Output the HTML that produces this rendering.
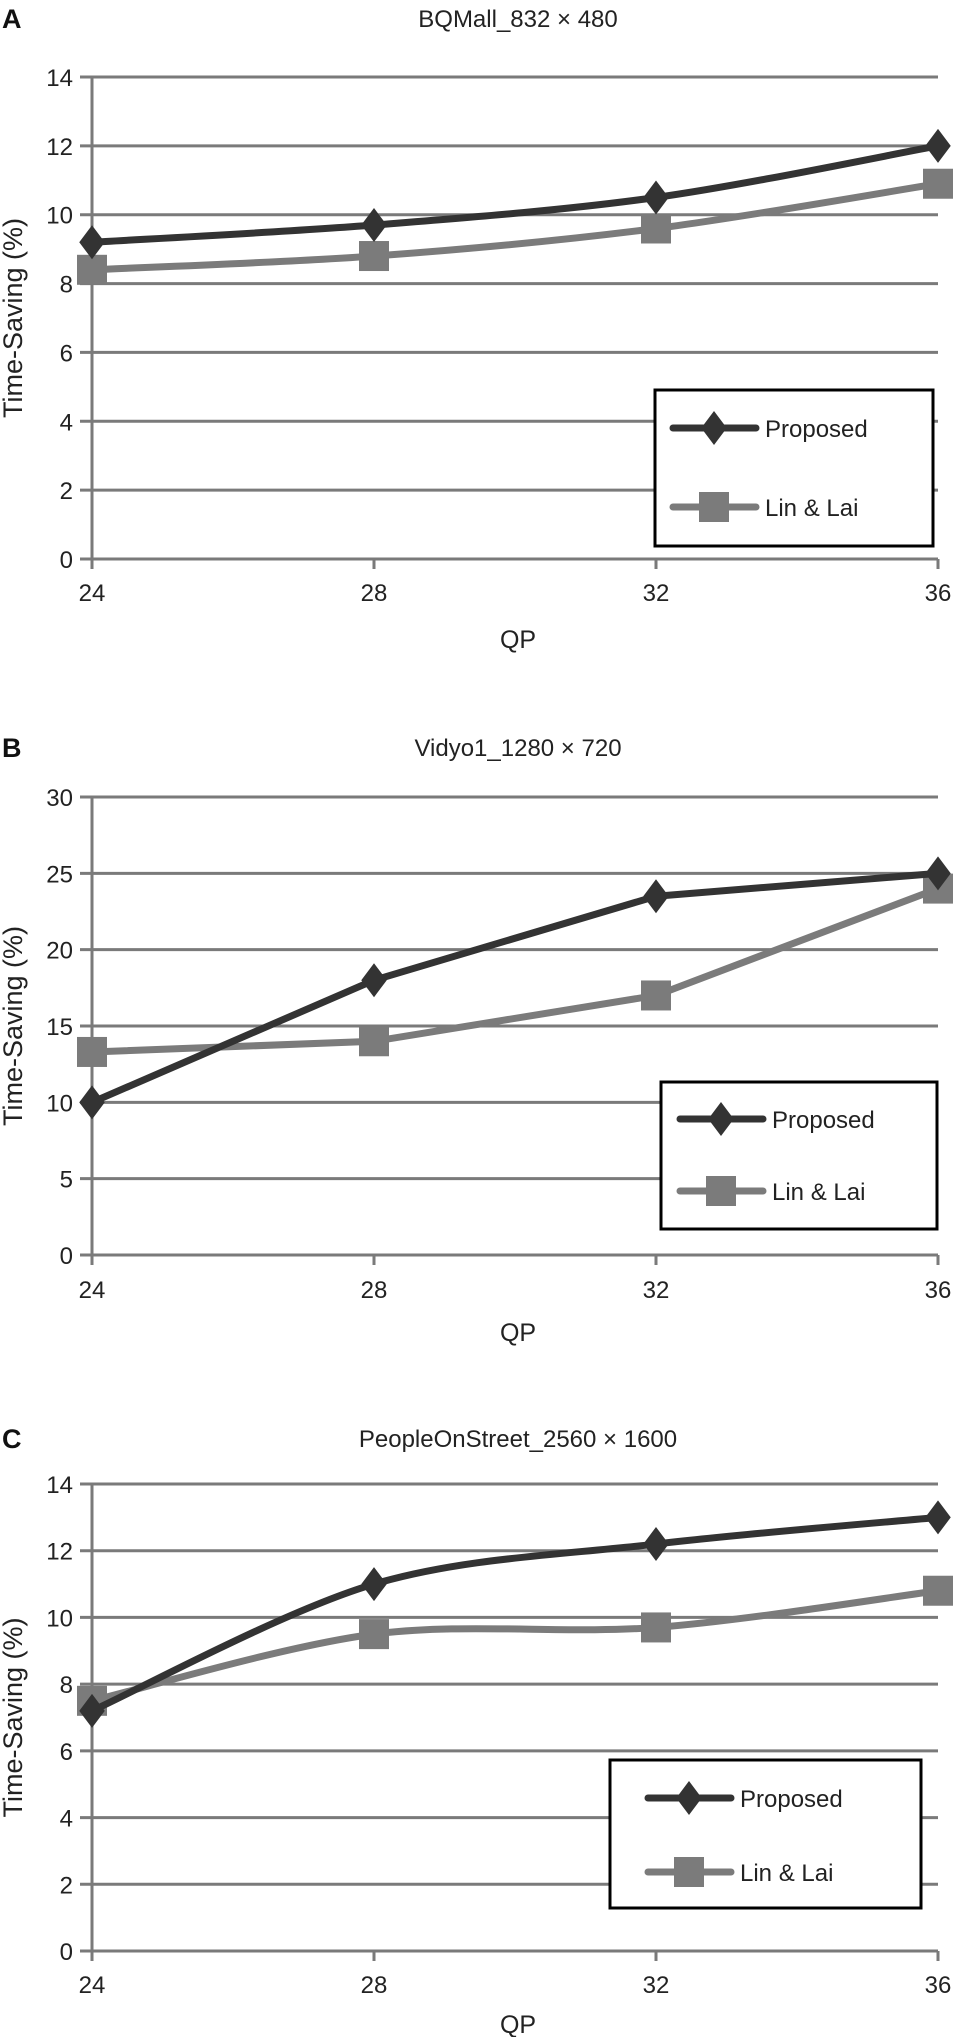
<!DOCTYPE html>
<html><head><meta charset="utf-8">
<style>
html,body{margin:0;padding:0;background:#fff;}
svg{display:block;font-family:"Liberation Sans",sans-serif;}
</style></head>
<body>
<svg id="fig" width="962" height="2037" viewBox="0 0 962 2037" xmlns="http://www.w3.org/2000/svg"></svg>
<script>
const categories = [24, 28, 32, 36];
const proposedA = [9.2, 9.7, 10.5, 12.0];
const linLaiA = [8.4, 8.8, 9.6, 10.9];
const proposedB = [10, 18, 23.5, 25];
const linLaiB = [13.3, 14, 17, 24];
const proposedC = [7.2, 11.0, 12.2, 13.0];
const linLaiC = [7.5, 9.5, 9.7, 10.8];
const ticksA = [0, 2, 4, 6, 8, 10, 12, 14];
const ticksB = [0, 5, 10, 15, 20, 25, 30];
const ticksC = [0, 2, 4, 6, 8, 10, 12, 14];

const NS = "http://www.w3.org/2000/svg";
const svg = document.getElementById("fig");
function mk(tag, attrs, parent) {
  const e = document.createElementNS(NS, tag);
  for (const k in attrs) e.setAttribute(k, attrs[k]);
  (parent || svg).appendChild(e);
  return e;
}
function smoothPath(pts) {
  let d = "M" + pts[0][0] + "," + pts[0][1];
  for (let i = 0; i < pts.length - 1; i++) {
    const p0 = pts[Math.max(0, i - 1)], p1 = pts[i], p2 = pts[i + 1], p3 = pts[Math.min(pts.length - 1, i + 2)];
    const t = 0.16;
    const c1 = [p1[0] + (p2[0] - p0[0]) * t, p1[1] + (p2[1] - p0[1]) * t];
    const c2 = [p2[0] - (p3[0] - p1[0]) * t, p2[1] - (p3[1] - p1[1]) * t];
    d += " C" + c1[0] + "," + c1[1] + " " + c2[0] + "," + c2[1] + " " + p2[0] + "," + p2[1];
  }
  return d;
}
function diamond(g, x, y, r, fill) {
  return mk("polygon", {points: `${x},${y-r} ${x+r*0.75},${y} ${x},${y+r} ${x-r*0.75},${y}`, fill: fill}, g);
}
function square(g, x, y, r, fill) {
  return mk("rect", {x: x - r, y: y - r, width: 2 * r, height: 2 * r, fill: fill}, g);
}

function chart(cfg) {
  const g = mk("g", {});
  
  
  const x0 = 92, x1 = 938;
  const ymax = cfg.ticks[cfg.ticks.length - 1];
  const xs = v => x0 + (v - categories[0]) / (categories[categories.length - 1] - categories[0]) * (x1 - x0);
  const ys = v => cfg.y0 - v / ymax * (cfg.y0 - cfg.ytop);

  const lab = mk("text", {x: 2, y: cfg.titleY + 10, "font-size": 27, "font-weight": "bold", fill: "#111"}, g);
  lab.textContent = cfg.letter;
  
  
  const t = mk("text", {x: 518, y: cfg.titleY + 9, "font-size": 24, "text-anchor": "middle", fill: "#222"}, g);
  t.textContent = cfg.title;
  
  

  cfg.ticks.forEach(v => {
    const y = ys(v);
    const gl = mk("line", {x1: 80, x2: 938, y1: y, y2: y, stroke: "#7a7a7a", "stroke-width": 3}, g);
    
    
    const tl = mk("text", {x: 73, y: y + 9, "font-size": 24, "text-anchor": "end", fill: "#222"}, g);
    tl.textContent = v;
    
    
  });
  const ax = mk("line", {x1: x0, x2: x0, y1: cfg.ytop, y2: cfg.y0 + 10, stroke: "#7a7a7a", "stroke-width": 3}, g);
  
  
  categories.forEach(c => {
    const x = xs(c);
    mk("line", {x1: x, x2: x, y1: cfg.y0, y2: cfg.y0 + 10, stroke: "#7a7a7a", "stroke-width": 3}, g);
    const xl = mk("text", {x: x, y: cfg.tickY + 9, "font-size": 24, "text-anchor": "middle", fill: "#222"}, g);
    xl.textContent = c;
    
    
  });
  const qp = mk("text", {x: 518, y: cfg.qpY + 9, "font-size": 25, "text-anchor": "middle", fill: "#222"}, g);
  qp.textContent = "QP";
  
  
  const yc = (cfg.ytop + cfg.y0) / 2;
  const yt = mk("text", {x: 0, y: 0, "font-size": 27, "text-anchor": "middle", fill: "#222", transform: `translate(22,${yc}) rotate(-90)`}, g);
  yt.textContent = "Time-Saving (%)";
  
  

  const series = [
    {vals: cfg.lin, color: "#7b7b7b", marker: square, name: "series-lin-lai"},
    {vals: cfg.prop, color: "#333333", marker: diamond, name: "series-proposed"}
  ];
  series.forEach(s => {
    const pts = s.vals.map((v, i) => [xs(categories[i]), ys(v)]);
    const d = cfg.smooth ? smoothPath(pts) : "M" + pts.map(p => p.join(",")).join(" L");
    const p = mk("path", {d: d, fill: "none", stroke: s.color, "stroke-width": 7, "stroke-linejoin": "round"}, g);
    
    
    pts.forEach(pt => {
      const m = s.marker(g, pt[0], pt[1], s.marker === diamond ? 17 : 15, s.color);
      
      
    });
  });

  const L = cfg.legend;
  const lg = mk("g", {}, g);
  
  
  mk("rect", {x: L.x, y: L.y, width: L.w, height: L.h, fill: "#fff", stroke: "#000", "stroke-width": 3}, lg);
  const entries = [
    {label: "Proposed", color: "#333333", marker: diamond, y: L.e1, r: 17},
    {label: "Lin & Lai", color: "#7b7b7b", marker: square, y: L.e2, r: 15}
  ];
  entries.forEach(e => {
    const eg = mk("g", {}, lg);
    
    
    mk("line", {x1: L.lx, x2: L.lx + 83, y1: e.y, y2: e.y, stroke: e.color, "stroke-width": 7, "stroke-linecap": "round"}, eg);
    e.marker(eg, L.lx + 41, e.y, e.r, e.color);
    const tx = mk("text", {x: L.lx + 92, y: e.y + 9, "font-size": 24, fill: "#222"}, eg);
    tx.textContent = e.label;
  });
}

chart({name: "chart-bqmall", letter: "A", title: "BQMall_832 × 480", titleY: 18, ytop: 77, y0: 559, tickY: 592, qpY: 639,
  ticks: ticksA, prop: proposedA, lin: linLaiA, smooth: true,
  legend: {x: 655, y: 390, w: 278, h: 156, e1: 428, e2: 507, lx: 673}});
chart({name: "chart-vidyo1", letter: "B", title: "Vidyo1_1280 × 720", titleY: 747, ytop: 797, y0: 1255, tickY: 1289, qpY: 1332,
  ticks: ticksB, prop: proposedB, lin: linLaiB, smooth: false,
  legend: {x: 661, y: 1082, w: 276, h: 147, e1: 1119, e2: 1191, lx: 680}});
chart({name: "chart-peopleonstreet", letter: "C", title: "PeopleOnStreet_2560 × 1600", titleY: 1438, ytop: 1484, y0: 1951, tickY: 1984, qpY: 2024,
  ticks: ticksC, prop: proposedC, lin: linLaiC, smooth: true,
  legend: {x: 610, y: 1760, w: 311, h: 148, e1: 1798, e2: 1872, lx: 648}});
</script>
</body></html>
